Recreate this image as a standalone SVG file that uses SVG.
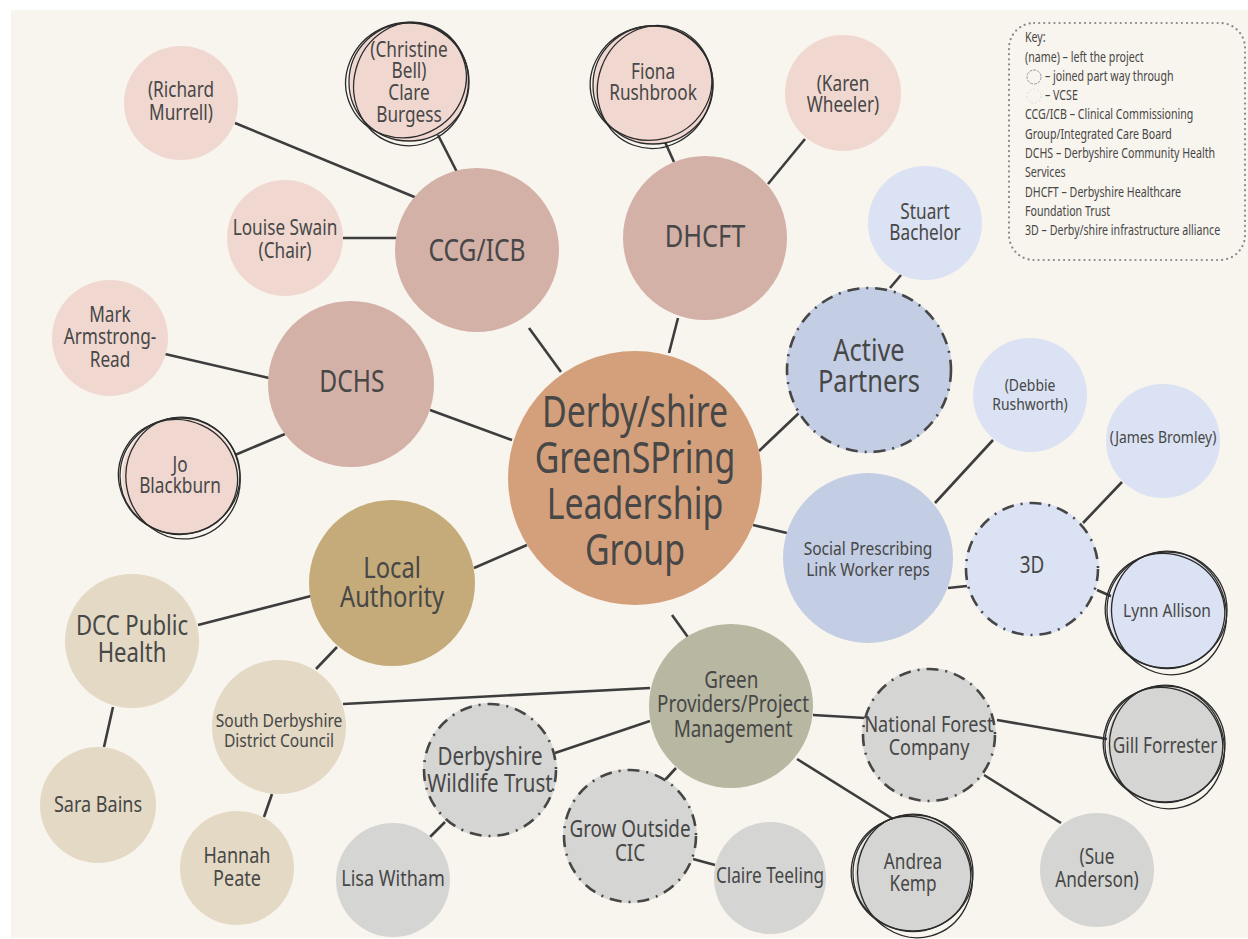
<svg xmlns="http://www.w3.org/2000/svg" width="1248" height="939" viewBox="0 0 1248 939">
<style>
text{font-family:"Noto Sans","Open Sans","Liberation Sans",sans-serif;fill:#474747;text-anchor:middle;transform-box:fill-box;transform-origin:center;transform:scaleX(.82)}
text.mt{transform:scaleX(.77)}
.c{stroke:#3d3d3d;stroke-width:2.6;fill:none}
.pk{fill:#f0d8d0}.mp{fill:#d4b1a7}.mn{fill:#d4a07b}.la{fill:#c4ab79}.tn{fill:#e3d9c4}.gy{fill:#d5d5d3}.gp{fill:#b8b7a2}.bl{fill:#c3cde3}.lb{fill:#dbe2f3}
.ds{fill:none;stroke:#464646;stroke-width:2.6;stroke-dasharray:12 7 2 7}
.sc{fill:none;stroke:#2b2b2b;stroke-width:1.3}
text.k{text-anchor:start;font-size:14px;transform-origin:left center;transform:scaleX(.76)}
</style>
<rect x="0" y="0" width="1248" height="939" fill="#ffffff"/>
<rect x="11" y="10" width="1237" height="928" fill="#f8f4ee"/>

<g id="connectors">
<line class="c" x1="235" y1="123" x2="429" y2="203"/>
<line class="c" x1="438" y1="135" x2="459" y2="176"/>
<line class="c" x1="343" y1="238" x2="415" y2="238"/>
<line class="c" x1="529" y1="328" x2="561" y2="372"/>
<line class="c" x1="678" y1="318" x2="669" y2="353"/>
<line class="c" x1="665" y1="142" x2="674" y2="162"/>
<line class="c" x1="805" y1="139" x2="768" y2="184"/>
<line class="c" x1="901" y1="275" x2="890" y2="288"/>
<line class="c" x1="799" y1="413" x2="759" y2="451"/>
<line class="c" x1="753" y1="525" x2="787" y2="533"/>
<line class="c" x1="993" y1="440" x2="935" y2="503"/>
<line class="c" x1="948" y1="588" x2="967" y2="586"/>
<line class="c" x1="1122" y1="482" x2="1083" y2="523"/>
<line class="c" x1="1097" y1="590" x2="1113" y2="597"/>
<line class="c" x1="165" y1="354" x2="269" y2="378"/>
<line class="c" x1="235" y1="455" x2="285" y2="434"/>
<line class="c" x1="430" y1="410" x2="512" y2="440"/>
<line class="c" x1="474" y1="568" x2="527" y2="545"/>
<line class="c" x1="198" y1="625" x2="311" y2="596"/>
<line class="c" x1="337" y1="647" x2="316" y2="669"/>
<line class="c" x1="113" y1="707" x2="104" y2="747"/>
<line class="c" x1="272" y1="794" x2="264" y2="817"/>
<line class="c" x1="343" y1="704" x2="650" y2="688"/>
<line class="c" x1="555" y1="753" x2="650" y2="721"/>
<line class="c" x1="665" y1="780" x2="676" y2="768"/>
<line class="c" x1="693" y1="859" x2="715" y2="865"/>
<line class="c" x1="445" y1="822" x2="430" y2="837"/>
<line class="c" x1="813" y1="715" x2="865" y2="718"/>
<line class="c" x1="797" y1="759" x2="893" y2="819"/>
<line class="c" x1="997" y1="720" x2="1107" y2="739"/>
<line class="c" x1="984" y1="775" x2="1061" y2="823"/>
<line class="c" x1="672" y1="615" x2="690" y2="640"/>
</g>

<g id="main"><circle class="mn" cx="635" cy="478" r="127"/>
<text class="mt" font-size="44"><tspan x="635" y="427">Derby/shire</tspan><tspan x="635" y="473">GreenSPring</tspan><tspan x="635" y="519">Leadership</tspan><tspan x="635" y="565">Group</tspan></text></g>

<g id="ccg"><circle class="mp" cx="477" cy="250" r="82"/><text font-size="30" x="477" y="261">CCG/ICB</text></g>
<g id="dhcft"><circle class="mp" cx="705" cy="238" r="82"/><text font-size="31" x="705" y="247">DHCFT</text></g>
<g id="dchs"><circle class="mp" cx="351" cy="384" r="83"/><text font-size="30" x="352" y="392">DCHS</text></g>
<g id="local-authority"><circle class="la" cx="392" cy="583" r="83"/><text font-size="29"><tspan x="392" y="578">Local</tspan><tspan x="392" y="607">Authority</tspan></text></g>
<g id="green-providers"><circle class="gp" cx="731" cy="706" r="82"/><text font-size="23"><tspan x="731" y="688">Green</tspan><tspan x="733" y="712">Providers/Project</tspan><tspan x="733" y="737">Management</tspan></text></g>
<g id="active-partners"><circle class="bl" cx="869" cy="370" r="83"/><circle class="ds" cx="869" cy="370" r="82"/><text font-size="31"><tspan x="869" y="361">Active</tspan><tspan x="869" y="392">Partners</tspan></text></g>
<g id="social-prescribing"><circle class="bl" cx="868" cy="558" r="85"/><text font-size="19"><tspan x="868" y="555">Social Prescribing</tspan><tspan x="868" y="576">Link Worker reps</tspan></text></g>

<g id="richard-murrell"><circle class="pk" cx="181" cy="103" r="57"/><text font-size="21"><tspan x="181" y="97">(Richard</tspan><tspan x="181" y="120">Murrell)</tspan></text></g>
<g id="clare-burgess"><circle class="pk" cx="409" cy="82" r="59"/>
<ellipse class="sc" cx="406" cy="80" rx="61" ry="57" transform="rotate(-25 406 80)"/><ellipse class="sc" cx="411" cy="84" rx="57" ry="62" transform="rotate(15 411 84)"/><ellipse class="sc" cx="409" cy="82" rx="60" ry="59"/>
<text font-size="21"><tspan x="409" y="57">(Christine</tspan><tspan x="409" y="78">Bell)</tspan><tspan x="409" y="100">Clare</tspan><tspan x="409" y="122">Burgess</tspan></text></g>
<g id="louise-swain"><circle class="pk" cx="285" cy="238" r="58"/><text font-size="21"><tspan x="285" y="235">Louise Swain</tspan><tspan x="285" y="258">(Chair)</tspan></text></g>
<g id="mark-armstrong-read"><circle class="pk" cx="110" cy="338" r="58"/><text font-size="21"><tspan x="110" y="322">Mark</tspan><tspan x="110" y="344">Armstrong-</tspan><tspan x="110" y="367">Read</tspan></text></g>
<g id="jo-blackburn"><circle class="pk" cx="180" cy="477" r="58"/>
<ellipse class="sc" cx="178" cy="477" rx="60" ry="57" transform="rotate(25 178 477)"/><ellipse class="sc" cx="183" cy="478" rx="57" ry="61" transform="rotate(-10 183 478)"/><ellipse class="sc" cx="180" cy="476" rx="60" ry="58"/>
<text font-size="21"><tspan x="180" y="472">Jo</tspan><tspan x="180" y="493">Blackburn</tspan></text></g>
<g id="fiona-rushbrook"><circle class="pk" cx="653" cy="85" r="59"/>
<ellipse class="sc" cx="651" cy="83" rx="61" ry="57" transform="rotate(-15 651 83)"/><ellipse class="sc" cx="655" cy="87" rx="57" ry="62" transform="rotate(20 655 87)"/><ellipse class="sc" cx="653" cy="85" rx="60" ry="59"/>
<text font-size="21"><tspan x="653" y="79">Fiona</tspan><tspan x="653" y="100">Rushbrook</tspan></text></g>
<g id="karen-wheeler"><circle class="pk" cx="843" cy="93" r="58"/><text font-size="21"><tspan x="843" y="91">(Karen</tspan><tspan x="843" y="112">Wheeler)</tspan></text></g>
<g id="stuart-bachelor"><circle class="lb" cx="925" cy="223" r="57"/><text font-size="21"><tspan x="925" y="219">Stuart</tspan><tspan x="925" y="240">Bachelor</tspan></text></g>
<g id="debbie-rushworth"><circle class="lb" cx="1030" cy="395" r="57"/><text font-size="17"><tspan x="1030" y="391">(Debbie</tspan><tspan x="1030" y="410">Rushworth)</tspan></text></g>
<g id="james-bromley"><circle class="lb" cx="1163" cy="441" r="57"/><text font-size="17" x="1163" y="443">(James Bromley)</text></g>
<g id="three-d"><circle class="lb" cx="1032" cy="569" r="67"/><circle class="ds" cx="1032" cy="569" r="66"/><text font-size="23" x="1032" y="573">3D</text></g>
<g id="lynn-allison"><circle class="lb" cx="1167" cy="611" r="58"/>
<ellipse class="sc" cx="1165" cy="611" rx="60" ry="57" transform="rotate(20 1165 611)"/><ellipse class="sc" cx="1169" cy="613" rx="57" ry="62" transform="rotate(-15 1169 613)"/><ellipse class="sc" cx="1167" cy="610" rx="60" ry="58"/>
<text font-size="19" x="1167" y="617">Lynn Allison</text></g>

<g id="dcc-public-health"><circle class="tn" cx="132" cy="641" r="67"/><text font-size="27"><tspan x="132" y="635">DCC Public</tspan><tspan x="132" y="662">Health</tspan></text></g>
<g id="sara-bains"><circle class="tn" cx="98" cy="805" r="58"/><text font-size="22" x="98" y="812">Sara Bains</text></g>
<g id="south-derbyshire"><circle class="tn" cx="279" cy="727" r="67"/><text font-size="19"><tspan x="279" y="727">South Derbyshire</tspan><tspan x="279" y="747">District Council</tspan></text></g>
<g id="hannah-peate"><circle class="tn" cx="237" cy="868" r="57"/><text font-size="22"><tspan x="237" y="863">Hannah</tspan><tspan x="237" y="886">Peate</tspan></text></g>

<g id="lisa-witham"><circle class="gy" cx="393" cy="880" r="57"/><text font-size="22" x="393" y="886">Lisa Witham</text></g>
<g id="derbyshire-wildlife-trust"><circle class="gy" cx="490" cy="770" r="67"/><circle class="ds" cx="490" cy="770" r="66"/><text font-size="25"><tspan x="490" y="765">Derbyshire</tspan><tspan x="490" y="792">Wildlife Trust</tspan></text></g>
<g id="grow-outside"><circle class="gy" cx="630" cy="836" r="67"/><circle class="ds" cx="630" cy="836" r="66"/><text font-size="23"><tspan x="630" y="837">Grow Outside</tspan><tspan x="630" y="861">CIC</tspan></text></g>
<g id="claire-teeling"><circle class="gy" cx="770" cy="878" r="56"/><text font-size="21" x="770" y="883">Claire Teeling</text></g>
<g id="national-forest"><circle class="gy" cx="929" cy="735" r="67"/><circle class="ds" cx="929" cy="735" r="66"/><text font-size="22"><tspan x="929" y="732">National Forest</tspan><tspan x="929" y="755">Company</tspan></text></g>
<g id="gill-forrester"><circle class="gy" cx="1165" cy="745" r="58"/>
<ellipse class="sc" cx="1163" cy="745" rx="60" ry="57" transform="rotate(20 1163 745)"/><ellipse class="sc" cx="1167" cy="747" rx="57" ry="62" transform="rotate(-15 1167 747)"/><ellipse class="sc" cx="1165" cy="744" rx="60" ry="58"/>
<text font-size="21" x="1165" y="753">Gill Forrester</text></g>
<g id="andrea-kemp"><circle class="gy" cx="913" cy="874" r="58"/>
<ellipse class="sc" cx="911" cy="874" rx="60" ry="57" transform="rotate(20 911 874)"/><ellipse class="sc" cx="915" cy="876" rx="57" ry="62" transform="rotate(-15 915 876)"/><ellipse class="sc" cx="913" cy="873" rx="60" ry="58"/>
<text font-size="21"><tspan x="913" y="869">Andrea</tspan><tspan x="913" y="891">Kemp</tspan></text></g>
<g id="sue-anderson"><circle class="gy" cx="1097" cy="870" r="57"/><text font-size="21"><tspan x="1097" y="864">(Sue</tspan><tspan x="1097" y="887">Anderson)</tspan></text></g>

<g id="key">
<rect x="1009" y="23" width="236" height="237" rx="25" fill="none" stroke="#8a8a8a" stroke-width="2.2" stroke-dasharray="0.1 5" stroke-linecap="round"/>
<circle cx="1034" cy="77" r="7" fill="none" stroke="#9a9a9a" stroke-width="1" stroke-dasharray="3 1"/>
<circle cx="1034" cy="96" r="7" fill="none" stroke="#dcdcdc" stroke-width="1" stroke-dasharray="2 2"/>
<text class="k" x="1025" y="42">Key:</text>
<text class="k" x="1025" y="62">(name) – left the project</text>
<text class="k" x="1045" y="81">– joined part way through</text>
<text class="k" x="1045" y="100">– VCSE</text>
<text class="k" x="1025" y="119">CCG/ICB – Clinical Commissioning</text>
<text class="k" x="1025" y="139">Group/Integrated Care Board</text>
<text class="k" x="1025" y="158">DCHS – Derbyshire Community Health</text>
<text class="k" x="1025" y="177">Services</text>
<text class="k" x="1025" y="197">DHCFT – Derbyshire Healthcare</text>
<text class="k" x="1025" y="216">Foundation Trust</text>
<text class="k" x="1025" y="235">3D – Derby/shire infrastructure alliance</text>
</g>
</svg>
